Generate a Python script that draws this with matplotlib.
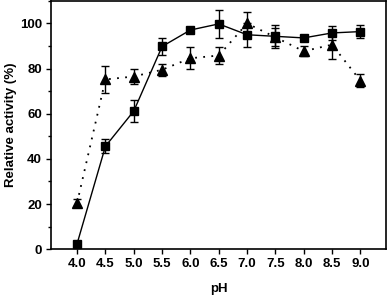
import numpy as np
import matplotlib
matplotlib.use("Agg")
import matplotlib.pyplot as plt
from matplotlib.ticker import MultipleLocator

plt.rcParams["font.family"] = ["Liberation Sans", "DejaVu Sans"]
plt.rcParams["font.weight"] = "bold"

# 数据
ph = [4.0, 4.5, 5.0, 5.5, 6.0, 6.5, 7.0, 7.5, 8.0, 8.5, 9.0]
sq_vals = [2.5, 45.6, 61.2, 89.8, 97.1, 99.8, 95.0, 94.3, 93.6, 95.8, 96.4]
sq_err = [1.0, 3.0, 5.0, 3.7, 1.5, 6.3, 5.4, 5.0, 1.5, 3.0, 3.0]
tri_vals = [20.6, 75.2, 76.5, 79.5, 84.6, 85.8, 100.0, 93.9, 87.7, 90.6, 74.7]
tri_err = [1.5, 6.0, 3.2, 2.6, 4.8, 3.7, 5.0, 4.0, 2.3, 6.5, 3.0]
xticks = ["4.0", "4.5", "5.0", "5.5", "6.0", "6.5", "7.0", "7.5", "8.0", "8.5", "9.0"]

fig = plt.figure(figsize=(3.87, 2.97), dpi=100)
ax = fig.add_axes([0.132, 0.161, 0.865, 0.836])

ax.errorbar(ph, tri_vals, yerr=tri_err, fmt="^", color="black", ls=(0, (1, 3.5)),
            lw=1.3, ms=7, capsize=3, elinewidth=1, capthick=1)
ax.errorbar(ph, sq_vals, yerr=sq_err, fmt="s", color="black", ls="-",
            lw=1, ms=6, capsize=3, elinewidth=1, capthick=1)

ax.set_xlim(3.54, 9.45)
ax.set_ylim(0, 110)
ax.set_xticks(ph)
ax.set_xticklabels(xticks)
ax.yaxis.set_major_locator(MultipleLocator(20))
ax.yaxis.set_minor_locator(MultipleLocator(10))
ax.tick_params(direction="out", labelsize=9.5, width=1, length=3.5, pad=3)
ax.tick_params(which="minor", direction="out", width=1, length=2)
for s in ax.spines.values():
    s.set_linewidth(1.2)

ax.set_xlabel("pH", fontsize=9.5, fontweight="bold", labelpad=9)
ax.set_ylabel("Relative activity (%)", fontsize=9.5, fontweight="bold", labelpad=2)

fig.savefig("out.png", dpi=100)
